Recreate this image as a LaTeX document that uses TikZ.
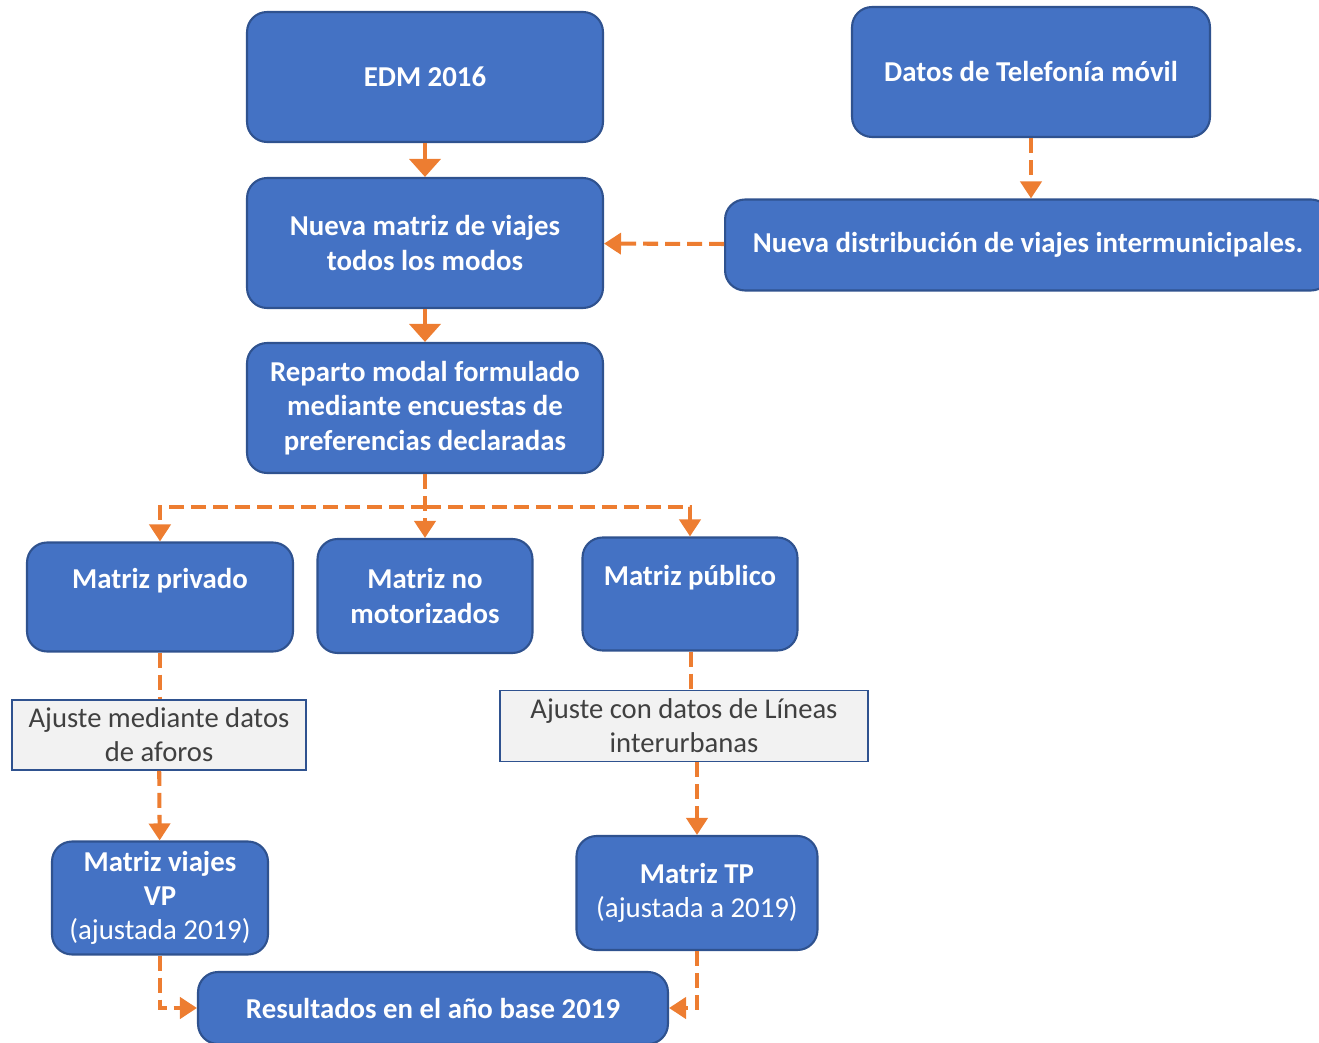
\documentclass[tikz,border=0pt]{standalone}
\usepackage{fontspec}
\setmainfont{Carlito}
\usepackage{tikz}
\usetikzlibrary{arrows.meta,positioning}

\definecolor{boxblue}{HTML}{4472C4}
\definecolor{boxedge}{HTML}{2F528F}
\definecolor{arrorange}{HTML}{ED7D31}
\definecolor{notegray}{HTML}{F2F2F2}
\definecolor{notetext}{HTML}{404040}

\begin{document}
\begin{tikzpicture}[x=0.02cm,y=-0.02cm]
	\tikzset{
		blok/.style={draw=boxedge,line width=1.2pt,fill=boxblue,rounded corners=0.4cm,
			text=white,font=\fontsize{16.4pt}{19.5pt}\selectfont\bfseries,align=center,inner sep=0pt},
		nota/.style={draw=boxedge,line width=1pt,fill=notegray,text=notetext,
			font=\fontsize{16.3pt}{19.5pt}\selectfont,align=center,inner sep=0pt},
		uptext/.style={text height=12pt,text depth=22pt},
		solidarr/.style={draw=arrorange,line width=2.3pt,-{Triangle[width=0.62cm,length=0.36cm]}},
		dashline/.style={draw=arrorange,line width=2.3pt,dash pattern=on 0.3cm off 0.14cm},
		dasharr/.style={dashline,-{Triangle[width=0.42cm,length=0.34cm]}}
	}
	\useasboundingbox (0,0) rectangle (1319,1043);

	%% top row
	\node[blok,minimum width=7.12cm,minimum height=2.6cm] (edm) at (425,77) {EDM 2016};
	\node[blok,minimum width=7.16cm,minimum height=2.6cm] (tel) at (1031,72) {Datos de Telefonía móvil};
	\node[blok,minimum width=7.12cm,minimum height=2.6cm] (mat) at (425,243) {Nueva matriz de viajes\\todos los modos};
	\node[blok,minimum width=12.12cm,minimum height=1.82cm] (dist) at (1028,245) {Nueva distribución de viajes intermunicipales.};
	\node[blok,minimum width=7.12cm,minimum height=2.6cm] (rep) at (425,408) {Reparto modal formulado\\mediante encuestas de\\preferencias declaradas};

	%% modes
	\node[blok,uptext,minimum width=5.32cm,minimum height=2.18cm] (priv) at (160,597) {Matriz privado};
	\node[blok,minimum width=4.3cm,minimum height=2.28cm] (nomot) at (425,596) {Matriz no\\motorizados};
	\node[blok,uptext,minimum width=4.3cm,minimum height=2.26cm] (pub) at (690,594) {Matriz público};
	\coordinate (fork) at (426,507);

	%% adjustments
	\node[nota,minimum width=5.88cm,minimum height=1.4cm] (afo) at (159,735) {Ajuste mediante datos\\de aforos};
	\node[nota,minimum width=7.36cm,minimum height=1.42cm] (lin) at (684,726) {Ajuste con datos de Líneas\\interurbanas};

	%% results
	\node[blok,minimum width=4.32cm,minimum height=2.26cm] (vp) at (160,898) {Matriz viajes\\VP\\\mdseries(ajustada 2019)};
	\node[blok,minimum width=4.82cm,minimum height=2.28cm] (tp) at (697,893) {Matriz TP\\\mdseries(ajustada a 2019)};
	\node[blok,minimum width=9.4cm,minimum height=1.44cm] (res) at (433,1008) {Resultados en el año base 2019};

	%% connectors
	\draw[solidarr] (edm) -- (mat);
	\draw[solidarr] (mat) -- (rep);
	\draw[dasharr] (tel.south) -- (tel.south |- dist.north);
	\draw[dasharr] (dist) -- (mat);
	\draw[dasharr] (rep.south) -- (nomot.north);
	\draw[dasharr] (fork) -| (priv.north);
	\draw[dasharr] (fork) -| (pub.north);
	\draw[dashline] (priv.south) -- (priv.south |- afo.north);
	\draw[dasharr] (afo) -- (vp);
	\draw[dashline] ([xshift=0.02cm]pub.south) -- ([xshift=0.02cm]pub.south |- lin.north);
	\draw[dasharr] (tp.north |- lin.south) -- (tp.north);
	\draw[dasharr] (vp.south) |- (res.west);
	\draw[dasharr] (tp.south) |- (res.east);
\end{tikzpicture}
\end{document}
